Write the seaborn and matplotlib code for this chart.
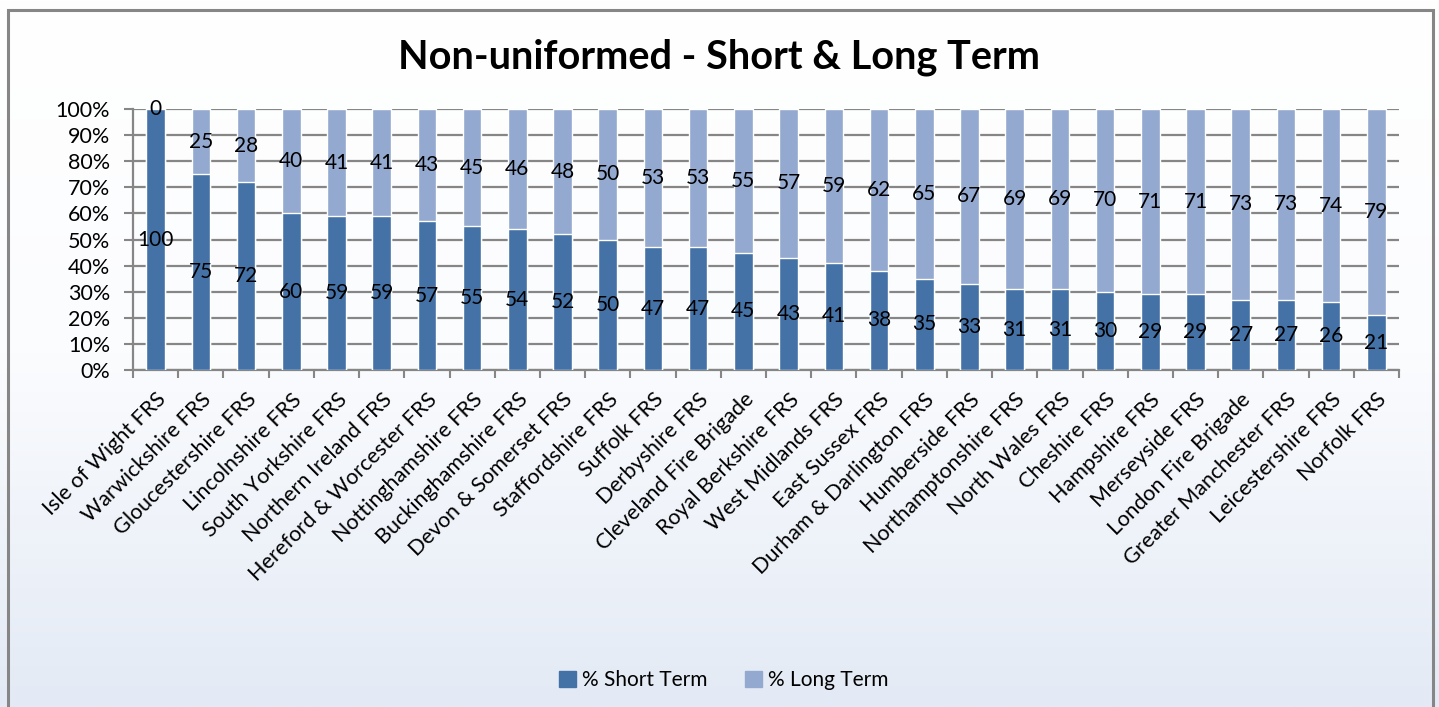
import numpy as np
import pandas as pd
import matplotlib
matplotlib.use("Agg")
import matplotlib.pyplot as plt
import seaborn as sns
from matplotlib.colors import LinearSegmentedColormap
from matplotlib.patches import Patch, Rectangle
from matplotlib.ticker import PercentFormatter

# Données
services = [
    "Isle of Wight FRS", "Warwickshire FRS", "Gloucestershire FRS", "Lincolnshire FRS",
    "South Yorkshire FRS", "Northern Ireland FRS", "Hereford & Worcester FRS",
    "Nottinghamshire FRS", "Buckinghamshire FRS", "Devon & Somerset FRS",
    "Staffordshire FRS", "Suffolk FRS", "Derbyshire FRS", "Cleveland Fire Brigade",
    "Royal Berkshire FRS", "West Midlands FRS", "East Sussex FRS",
    "Durham & Darlington FRS", "Humberside FRS", "Northamptonshire FRS",
    "North Wales FRS", "Cheshire FRS", "Hampshire FRS", "Merseyside FRS",
    "London Fire Brigade", "Greater Manchester FRS", "Leicestershire FRS", "Norfolk FRS",
]
short_term = [100, 75, 72, 60, 59, 59, 57, 55, 54, 52, 50, 47, 47, 45, 43, 41, 38, 35,
              33, 31, 31, 30, 29, 29, 27, 27, 26, 21]
long_term = [0, 25, 28, 40, 41, 41, 43, 45, 46, 48, 50, 53, 53, 55, 57, 59, 62, 65,
             67, 69, 69, 70, 71, 71, 73, 73, 74, 79]
y_ticks = list(range(0, 101, 10))
series_names = ["% Short Term", "% Long Term"]
title = "Non-uniformed - Short & Long Term"

df = pd.DataFrame({"service": services, "short": short_term, "long": long_term})
df["total"] = df["short"] + df["long"]

dark = "#4472a6"
light = "#93a9cf"
grey = "#868686"

sns.set_theme(style="white")
plt.rcParams["font.family"] = ["Lato", "DejaVu Sans"]
plt.rcParams["text.color"] = "black"
plt.rcParams["xtick.labelcolor"] = "black"
plt.rcParams["ytick.labelcolor"] = "black"

fig = plt.figure(figsize=(14.39, 7.07), dpi=100)

# fond dégradé façon Excel
bg = fig.add_axes([0, 0, 1, 1], zorder=-10)
cmap = LinearSegmentedColormap.from_list("bg", ["#ffffff", "#fbfcfe", "#e3eaf5"])
bg.imshow(np.linspace(0, 1, 256).reshape(-1, 1), aspect="auto", cmap=cmap,
          extent=[0, 1, 0, 1], origin="upper")
bg.set_axis_off()

# cadre
fig.add_artist(Rectangle((8 / 1439, -0.05), 1425 / 1439, 1.05 - 10 / 707,
                         transform=fig.transFigure, fill=False,
                         edgecolor=grey, lw=2.2))

ax = fig.add_axes([133 / 1439, 1 - 370 / 707, 1266 / 1439, 261 / 707])
ax.patch.set_alpha(0)

sns.barplot(data=df, x="service", y="total", color=light, width=0.41,
            saturation=1, ax=ax, zorder=3)
sns.barplot(data=df, x="service", y="short", color=dark, width=0.41,
            saturation=1, ax=ax, zorder=3)

# étiquettes de données
ax.bar_label(ax.containers[1], labels=[str(v) for v in short_term],
             label_type="center", fontsize=15, color="black", zorder=5)
for i, (s, l) in enumerate(zip(short_term, long_term)):
    ax.text(i, s + l / 2, str(l), ha="center", va="center", fontsize=15,
            color="black", zorder=5)

ax.set_xlim(-0.5, len(services) - 0.5)
ax.set_ylim(0, 100)
ax.set_yticks(y_ticks)
ax.yaxis.set_major_formatter(PercentFormatter(100, decimals=0))
ax.yaxis.grid(True, color=grey, lw=1.6)
ax.set_axisbelow(True)
ax.set_xlabel("")
ax.set_ylabel("")

ax.set_xticks(np.arange(-0.5, len(services), 1), minor=True)
ax.set_xticks(range(len(services)))
ax.set_xticklabels(services, rotation=45, ha="right", rotation_mode="anchor",
                   fontsize=15.5)
ax.tick_params(axis="x", which="major", length=0, pad=14, labelcolor="black")
ax.tick_params(axis="x", which="minor", length=6, width=1.5, color=grey,
               bottom=True)
ax.tick_params(axis="y", length=6.5, width=1.5, color=grey, left=True,
               labelsize=15.5, pad=10, labelcolor="black")

for side in ["top", "right"]:
    ax.spines[side].set_visible(False)
for side in ["left", "bottom"]:
    ax.spines[side].set_color(grey)
    ax.spines[side].set_linewidth(1.6)

fig.text(0.5, 1 - 57 / 707, title, ha="center", va="center", fontsize=28.5,
         fontweight="bold", color="black")

handles = [Patch(color=dark), Patch(color=light)]
fig.legend(handles, series_names, loc="center", bbox_to_anchor=(724 / 1439, 1 - 680 / 707),
           ncol=2, frameon=False, fontsize=15, handlelength=0.8, handleheight=0.8,
           handletextpad=0.3, columnspacing=1.8, labelcolor="black")

fig.savefig("out.png", dpi=100)
